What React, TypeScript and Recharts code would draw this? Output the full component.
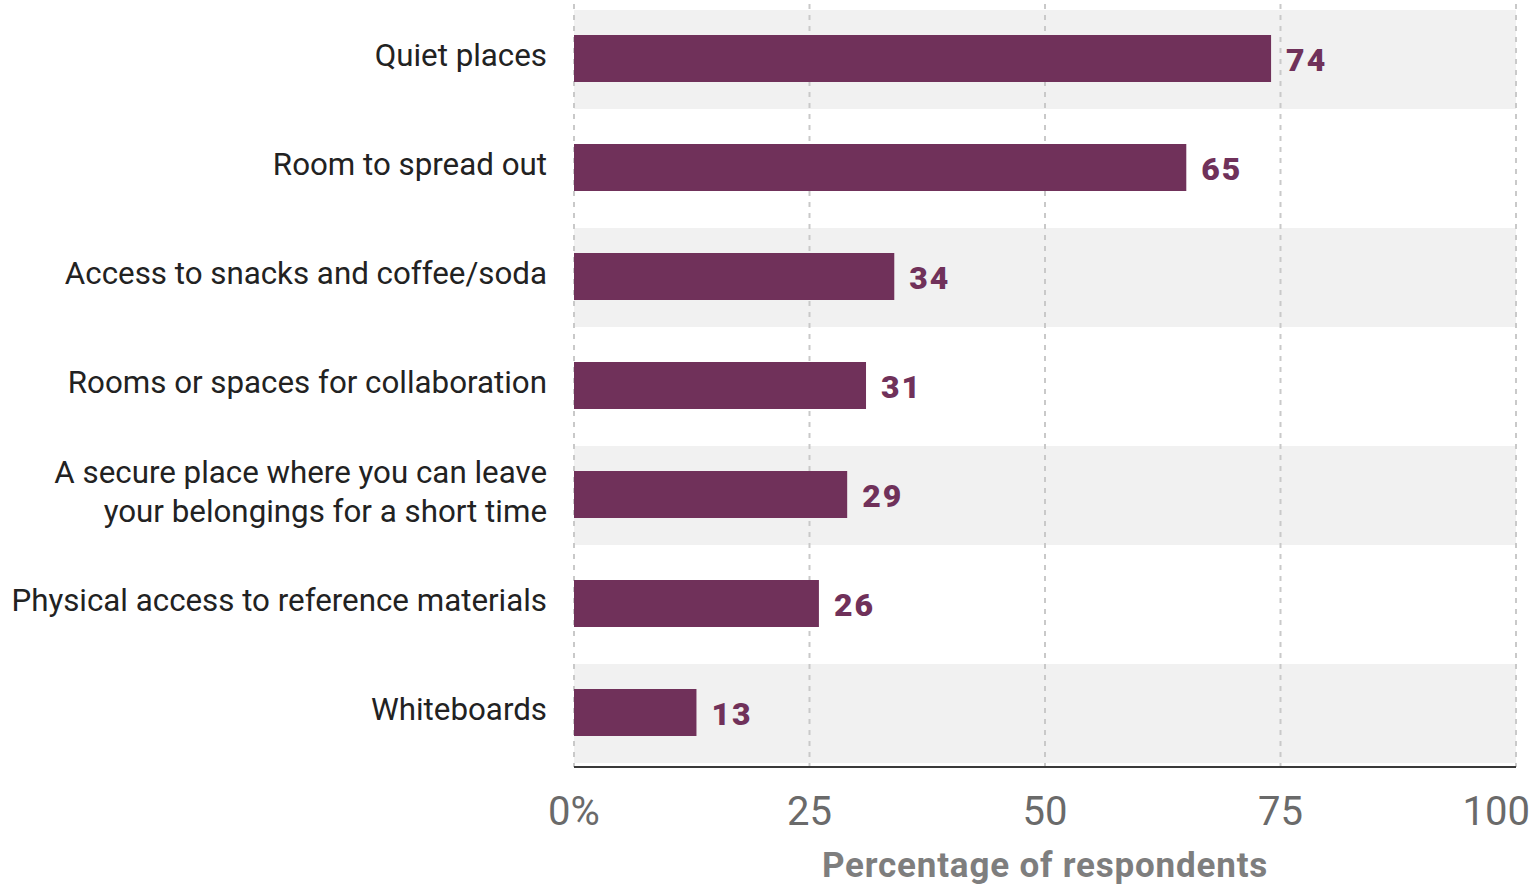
import React from 'react';
import { BarChart, Bar, XAxis, YAxis, CartesianGrid, ReferenceArea, LabelList } from 'recharts';

const categories = [
  'Quiet places',
  'Room to spread out',
  'Access to snacks and coffee/soda',
  'Rooms or spaces for collaboration',
  'A secure place where you can leave|your belongings for a short time',
  'Physical access to reference materials',
  'Whiteboards',
];
const values = [74, 65, 34, 31, 29, 26, 13];
const xTicks = [0, 25, 50, 75, 100];
const xTickLabels = ['0%', '25', '50', '75', '100'];
const axisTitle = 'Percentage of respondents';

const data = categories.map((c, i) => ({ name: c, value: values[i] }));
const shadedCats = categories.filter((_, i) => i % 2 === 0);

const FONT = 'Roboto, "Noto Sans", sans-serif';
const BAR = '#70315a';

const YTick = (props: any) => {
  const { x, y, payload } = props;
  const lines = String(payload.value).split('|');
  if (lines.length === 1) {
    return (
      <text x={x - 27} y={y + 7} textAnchor="end" fontFamily={FONT} fontSize={31.3} fill="#222">
        {lines[0]}
      </text>
    );
  }
  return (
    <text textAnchor="end" fontFamily={FONT} fontSize={31.3} fill="#222">
      <tspan x={x - 27} y={y - 12}>{lines[0]}</tspan>
      <tspan x={x - 27} y={y + 27}>{lines[1]}</tspan>
    </text>
  );
};

const XTick = (props: any) => {
  const { x, y, payload, index } = props;
  const idx = xTicks.indexOf(payload.value);
  const label = xTickLabels[idx >= 0 ? idx : index];
  const last = payload.value === 100;
  return (
    <text
      x={last ? x + 14 : x}
      y={y + 58}
      textAnchor={last ? 'end' : 'middle'}
      fontFamily={FONT}
      fontSize={40}
      fill="#6a6a6a"
    >
      {label}
    </text>
  );
};

const ValueLabel = (props: any) => {
  const { x, y, width, height, value } = props;
  return (
    <text
      x={x + width + 15}
      y={y + height / 2 + 12}
      fontFamily={FONT}
      fontWeight={900}
      fontSize={32}
      fill={BAR}
      letterSpacing={2}
    >
      {value}
    </text>
  );
};

const BandShape = (props: any) => {
  const { x, y, width, height } = props;
  return <rect x={x} y={y + 6} width={width} height={height - 10} fill="#f1f1f1" />;
};

const AxisTitle = (props: any) => {
  const vb = props.viewBox || {};
  return (
    <text
      x={vb.x + vb.width / 2}
      y={vb.y + 110}
      textAnchor="middle"
      fontFamily={FONT}
      fontWeight={700}
      fontSize={35}
      letterSpacing={0.8}
      fill="#7e7e7e"
    >
      {axisTitle}
    </text>
  );
};

export default function App() {
  return (
    <div style={{ position: 'absolute', left: 0, top: 0, width: 1533, height: 886, background: '#fff' }}>
      <BarChart
        width={1533}
        height={886}
        data={data}
        layout="vertical"
        margin={{ top: 4, right: 17, bottom: 0, left: 0 }}
        barCategoryGap={31}
      >
        {shadedCats.map((c) => (
          <ReferenceArea key={c} y1={c} y2={c} shape={BandShape} ifOverflow="visible" zIndex={-200} />
        ))}
        <CartesianGrid
          horizontal={false}
          vertical={true}
          stroke="#c9c9c9"
          strokeWidth={2}
          strokeDasharray="5 6"
        />
        <XAxis
          type="number"
          domain={[0, 100]}
          ticks={xTicks}
          tickLine={false}
          tickSize={0}
          tickMargin={0}
          axisLine={{ stroke: '#3a3a3a', strokeWidth: 2 }}
          tick={<XTick />}
          height={119}
          interval={0}
          label={<AxisTitle />}
        />
        <YAxis
          type="category"
          dataKey="name"
          width={574}
          tickLine={false}
          axisLine={false}
          tickSize={0}
          tickMargin={0}
          tick={<YTick />}
          interval={0}
        />
        <Bar dataKey="value" fill={BAR} barSize={47} isAnimationActive={false}>
          <LabelList dataKey="value" content={<ValueLabel />} />
        </Bar>
      </BarChart>
    </div>
  );
}
